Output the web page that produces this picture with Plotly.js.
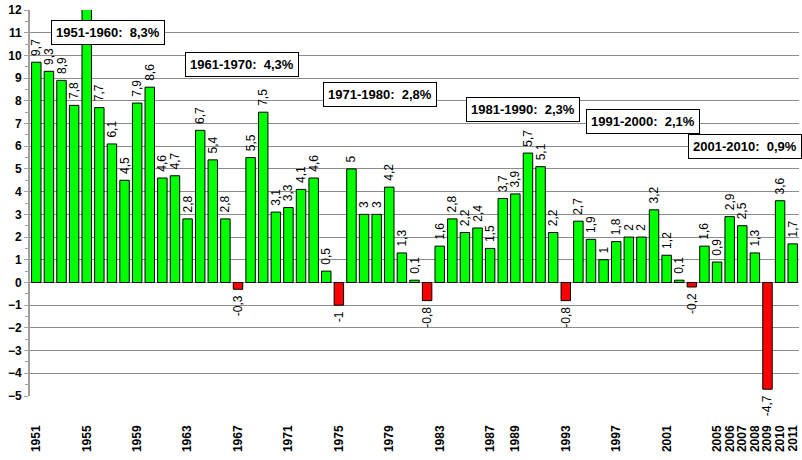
<!DOCTYPE html>
<html>
<head>
<meta charset="utf-8">
<script src="https://cdn.plot.ly/plotly-3.0.1.min.js"></script>
<style>html,body{margin:0;padding:0;background:#fff;}#chart{width:802px;height:460px;}</style>
</head>
<body>
<div id="chart"></div>
<script>
const years = [1951,1952,1953,1954,1955,1956,1957,1958,1959,1960,
  1961,1962,1963,1964,1965,1966,1967,1968,1969,1970,
  1971,1972,1973,1974,1975,1976,1977,1978,1979,1980,
  1981,1982,1983,1984,1985,1986,1987,1988,1989,1990,
  1991,1992,1993,1994,1995,1996,1997,1998,1999,2000,
  2001,2002,2003,2004,2005,2006,2007,2008,2009,2010,2011];
const growth = [9.7,9.3,8.9,7.8,12.1,7.7,6.1,4.5,7.9,8.6,
  4.6,4.7,2.8,6.7,5.4,2.8,-0.3,5.5,7.5,3.1,
  3.3,4.1,4.6,0.5,-1,5,3,3,4.2,1.3,
  0.1,-0.8,1.6,2.8,2.2,2.4,1.5,3.7,3.9,5.7,
  5.1,2.2,-0.8,2.7,1.9,1,1.8,2,2,3.2,
  1.2,0.1,-0.2,1.6,0.9,2.9,2.5,1.3,-4.7,3.6,1.7];
const tickYears = [1951,1955,1959,1963,1967,1971,1975,1979,1983,1987,1989,1993,1997,2001,2005,2006,2007,2008,2009,2010,2011];
const decadeLabels = ["1951-1960:\u00a0\u00a08,3%","1961-1970:\u00a0\u00a04,3%","1971-1980:\u00a0\u00a02,8%","1981-1990:\u00a0\u00a02,3%","1991-2000:\u00a0\u00a02,1%","2001-2010:\u00a0\u00a00,9%"];

const Y_MIN = -5, Y_MAX = 12;
const FONT = "Liberation Sans, Arial, sans-serif";
const colors = growth.map(v => v < 0 ? "#ff0000" : "#00ff00");
const labels = growth.map(v => {
  const s = String(v).replace(".", ",");
  return v < 0 ? s + "\u00a0" : "\u00a0" + s;
});
const positions = growth.map(v => v > Y_MAX ? "none" : "outside");

const trace = {
  type: "bar",
  x: years,
  y: growth,
  marker: {color: colors, line: {color: "#000000", width: 1}},
  text: labels,
  textposition: positions,
  textangle: -90,
  constraintext: "none",
  cliponaxis: false,
  textfont: {family: FONT, size: 12, color: "#000"},
  hoverinfo: "x+y"
};

const annPos = [
  [1956.69, 10.99],[1967.32, 9.58],[1978.26, 8.26],[1989.6, 7.6],[1999.12, 7.08],[2007.2, 5.98]
];
const annotations = decadeLabels.map((t, i) => ({
  x: annPos[i][0], y: annPos[i][1], xref: "x", yref: "y",
  text: t, showarrow: false,
  font: {family: FONT, size: 13, color: "#000", weight: "bold"},
  bgcolor: "#ffffff", bordercolor: "#000000", borderwidth: 1, borderpad: 4
}));

const layout = {
  width: 802, height: 460,
  margin: {l: 30, r: 3, t: 10, b: 64},
  paper_bgcolor: "#ffffff", plot_bgcolor: "#ffffff",
  showlegend: false,
  bargap: 0.25,
  font: {family: FONT, color: "#000"},
  xaxis: {
    type: "linear", range: [1950.5, 2011.5],
    tickvals: tickYears, ticktext: tickYears.map(String),
    tickangle: -90, showgrid: false, zeroline: false, showline: false,
    ticks: "", ticklabelstandoff: 26,
    tickfont: {family: FONT, size: 12, color: "#000", weight: "bold"}
  },
  xaxis2: {
    type: "linear", range: [1950.5, 2011.5], overlaying: "x",
    anchor: "free", position: (0 - Y_MIN) / (Y_MAX - Y_MIN), side: "bottom",
    tick0: 1950.5, dtick: 1, ticks: "outside", ticklen: 4, tickcolor: "#333",
    showticklabels: false, showgrid: false, zeroline: false,
    showline: true, linecolor: "#000", linewidth: 1
  },
  yaxis: {
    range: [Y_MIN, Y_MAX], dtick: 1, gridcolor: "#8c8c8c", gridwidth: 1,
    showline: true, linecolor: "#a0a0a0", linewidth: 2,
    ticks: "outside", ticklen: 4, tickcolor: "#a0a0a0",
    minor: {dtick: 0.5, ticks: "outside", ticklen: 3, tickcolor: "#a0a0a0", showgrid: false},
    zeroline: false,
    tickfont: {family: FONT, size: 12, color: "#000", weight: "bold"}
  },
  annotations: annotations
};

Plotly.newPlot("chart", [trace], layout, {displayModeBar: false, staticPlot: true});
</script>
</body>
</html>
